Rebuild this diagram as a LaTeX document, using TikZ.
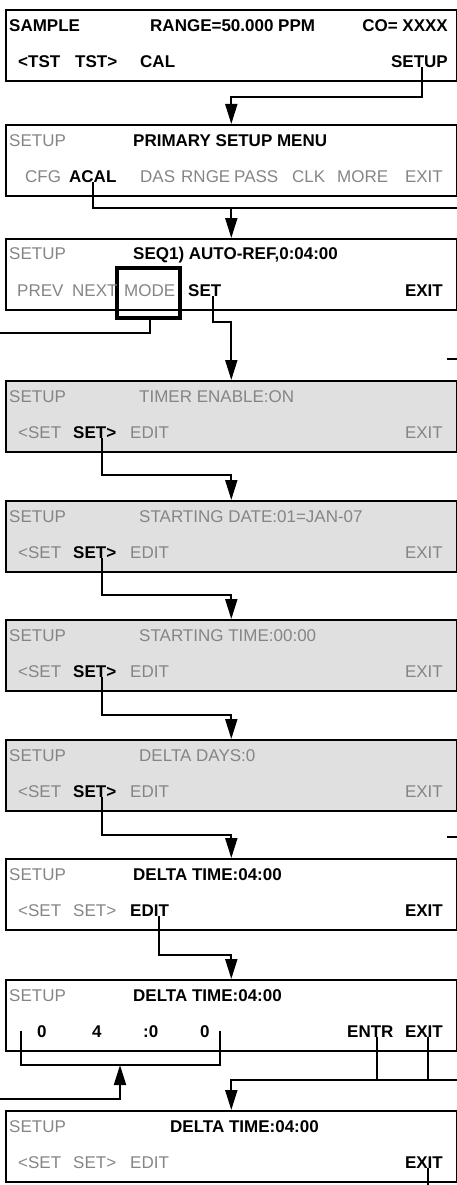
\documentclass[tikz,border=0pt]{standalone}
\usepackage{fontspec}
\setmainfont{Liberation Sans}
\usetikzlibrary{arrows.meta}
\definecolor{lcdgray}{HTML}{E0E0E0}
\definecolor{dimtext}{HTML}{858585}
\begin{document}
\begin{tikzpicture}[x=1pt,y=-1pt,
  screen/.style={draw,line width=1.6pt,minimum width=451pt,minimum height=71pt,anchor=north west,inner sep=0},
  greyscreen/.style={screen,fill=lcdgray},
  dim/.style={anchor=west,inner sep=0,text=dimtext,font=\fontsize{17}{20}\selectfont,text height=12.3pt,text depth=0pt},
  hot/.style={dim,text=black,font=\fontsize{17}{20}\selectfont\bfseries},
  wire/.style={line width=2pt},
  arr/.style={wire,-{Triangle[width=12pt,length=20pt]}},
  modebox/.style={draw,line width=3.5pt,minimum width=63pt,minimum height=50pt,inner sep=0}]
\useasboundingbox (0,0) rectangle (457,1185);

% screens
\node[screen] (scr1) at (5,9) {};
\node[screen] (scr2) at (5,124) {};
\node[screen] (scr3) at (5,238) {};
\node[greyscreen] (scr4) at (5,380) {};
\node[greyscreen] (scr5) at (5,500) {};
\node[greyscreen] (scr6) at (5,619) {};
\node[greyscreen] (scr7) at (5,739) {};
\node[screen] (scr8) at (5,858) {};
\node[screen] (scr9) at (5,979) {};
\node[screen] (scr10) at (5,1110) {};
\node[modebox] (modebx) at (148.5,293) {};

% sample display
\node[hot] (b1sample) at (9,25) {SAMPLE};
\node[hot] (b1range) at (150,25) {RANGE=50.000 PPM};
\node[hot,anchor=east] (b1co) at (448,25) {CO= XXXX};
\node[hot] (b1tstl) at (18,61) {<TST};
\node[hot] (b1tstr) at (75,61) {TST>};
\node[hot] (b1cal) at (140,61) {CAL};
\node[hot,anchor=east] (b1setup) at (448,61) {SETUP};

% primary setup menu
\node[dim] (b2setup) at (9,140) {SETUP};
\node[hot] (b2title) at (133,140) {PRIMARY SETUP MENU};
\node[dim] (b2cfg) at (25,176) {CFG};
\node[hot] (b2acal) at (69,176) {ACAL};
\node[dim] (b2das) at (140,176) {DAS};
\node[dim] (b2rnge) at (181,176) {RNGE};
\node[dim] (b2pass) at (234,176) {PASS};
\node[dim] (b2clk) at (292,176) {CLK};
\node[dim] (b2more) at (337,176) {MORE};
\node[dim,anchor=east] (b2exit) at (443,176) {EXIT};

% sequence
\node[dim] (b3setup) at (9,253) {SETUP};
\node[hot] (b3title) at (133,253) {SEQ1) AUTO-REF,0:04:00};
\node[dim] (b3prev) at (17,290) {PREV};
\node[dim] (b3next) at (72,290) {NEXT};
\node[dim] (b3mode) at (124,290) {MODE};
\node[hot] (b3set) at (188,290) {SET};
\node[hot,anchor=east] (b3exit) at (443,290) {EXIT};

% timer enable
\node[dim] (b4setup) at (9,396) {SETUP};
\node[dim] (b4title) at (139,396) {TIMER ENABLE:ON};
\node[dim] (b4prev) at (18,432) {<SET};
\node[hot] (b4set) at (73,432) {SET>};
\node[dim] (b4edit) at (130,432) {EDIT};
\node[dim,anchor=east] (b4exit) at (443,432) {EXIT};

% starting date
\node[dim] (b5setup) at (9,516) {SETUP};
\node[dim] (b5title) at (139,516) {STARTING DATE:01=JAN-07};
\node[dim] (b5prev) at (18,552) {<SET};
\node[hot] (b5set) at (73,552) {SET>};
\node[dim] (b5edit) at (130,552) {EDIT};
\node[dim,anchor=east] (b5exit) at (443,552) {EXIT};

% starting time
\node[dim] (b6setup) at (9,635) {SETUP};
\node[dim] (b6title) at (139,635) {STARTING TIME:00:00};
\node[dim] (b6prev) at (18,671) {<SET};
\node[hot] (b6set) at (73,671) {SET>};
\node[dim] (b6edit) at (130,671) {EDIT};
\node[dim,anchor=east] (b6exit) at (443,671) {EXIT};

% delta days
\node[dim] (b7setup) at (9,755) {SETUP};
\node[dim] (b7title) at (139,755) {DELTA DAYS:0};
\node[dim] (b7prev) at (18,791) {<SET};
\node[hot] (b7set) at (73,791) {SET>};
\node[dim] (b7edit) at (130,791) {EDIT};
\node[dim,anchor=east] (b7exit) at (443,791) {EXIT};

% delta time
\node[dim] (b8setup) at (9,874) {SETUP};
\node[hot] (b8title) at (133,874) {DELTA TIME:04:00};
\node[dim] (b8prev) at (18,910) {<SET};
\node[dim] (b8set) at (73,910) {SET>};
\node[hot] (b8edit) at (130,910) {EDIT};
\node[hot,anchor=east] (b8exit) at (443,910) {EXIT};

% delta time, editing
\node[dim] (b9setup) at (9,995) {SETUP};
\node[hot] (b9title) at (133,995) {DELTA TIME:04:00};
\node[hot] (b9d1) at (37,1031) {0};
\node[hot] (b9d2) at (92,1031) {4};
\node[hot] (b9d3) at (143,1031) {:0};
\node[hot] (b9d4) at (200,1031) {0};
\node[hot] (b9entr) at (347,1031) {ENTR};
\node[hot,anchor=east] (b9exit) at (443,1031) {EXIT};

% delta time, done
\node[dim] (b10setup) at (9,1126) {SETUP};
\node[hot] (b10title) at (170,1126) {DELTA TIME:04:00};
\node[dim] (b10prev) at (18,1162) {<SET};
\node[dim] (b10set) at (73,1162) {SET>};
\node[dim] (b10edit) at (130,1162) {EDIT};
\node[hot,anchor=east] (b10exit) at (443,1162) {EXIT};

% free ends
\coordinate (acalout) at (457,208);
\coordinate (modeout) at (0,333);
\coordinate (stub1) at (447,359);
\coordinate (stub2) at (447,837);
\coordinate (brl) at (21,1031);
\coordinate (brr) at (220,1031);
\coordinate (brb) at (120,1065);
\coordinate (digin) at (0,1099);
\coordinate (entrout) at (457,1080);
\coordinate (pagebottom) at (0,1185);

% connectors
\draw[arr] ([xshift=3pt]b1setup.south) |- ([yshift=27pt]scr2.north) -- (scr2.north);
\draw[wire] (b2acal.south) |- (acalout);
\draw[arr] (scr3.north |- acalout) -- (scr3.north);
\draw[wire] ([xshift=1.5pt]modebx.south) |- (modeout);
\draw[arr] ([xshift=8pt]b3set.south) |- ([yshift=58pt]scr4.north) -- (scr4.north);
\draw[wire] (stub1) -- ++(10,0);
\draw[arr] ([xshift=7pt]b4set.south) |- ([yshift=25pt]scr5.north) -- (scr5.north);
\draw[arr] ([xshift=7pt]b5set.south) |- ([yshift=24pt]scr6.north) -- (scr6.north);
\draw[arr] ([xshift=7pt]b6set.south) |- ([yshift=24pt]scr7.north) -- (scr7.north);
\draw[arr] ([xshift=7pt]b7set.south) |- ([yshift=23pt]scr8.north) -- (scr8.north);
\draw[wire] (stub2) -- ++(10,0);
\draw[arr] ([xshift=9pt]b8edit.south) |- ([yshift=24pt]scr9.north) -- (scr9.north);
\draw[wire] (brl) |- (brb) -| (brr);
\draw[arr] (digin) -| (brb);
\draw[wire] ([xshift=7pt]b9entr.south) |- (entrout);
\draw[wire] ([xshift=4pt]b9exit.south) -- ([xshift=4pt]b9exit.south |- entrout);
\draw[arr] (entrout) -| (scr10.north);
\draw[wire] ([xshift=4pt]b10exit.south) -- ([xshift=4pt]b10exit.south |- pagebottom);
\end{tikzpicture}
\end{document}
